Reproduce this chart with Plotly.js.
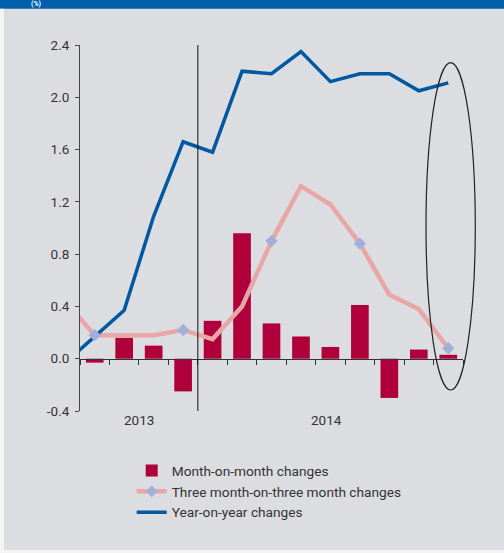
<!DOCTYPE html>
<html>
<head>
<meta charset="utf-8">
<script src="https://cdn.plot.ly/plotly-3.0.1.min.js"></script>
<style>html,body{margin:0;padding:0;background:#fff;}#chart{width:504px;height:553px;}</style>
</head>
<body>
<div id="chart"></div>
<script>
// Months (first one lies just left of the visible range, as in the original)
var months = ['Aug 2013','Sep 2013','Oct 2013','Nov 2013','Dec 2013','Jan 2014','Feb 2014','Mar 2014','Apr 2014','May 2014','Jun 2014','Jul 2014','Aug 2014','Sep 2014'];
var monthOnMonth = [null, -0.03, 0.16, 0.10, -0.25, 0.29, 0.96, 0.27, 0.17, 0.09, 0.41, -0.30, 0.07, 0.03];
var threeOnThree = [0.44, 0.18, 0.18, 0.18, 0.22, 0.15, 0.40, 0.90, 1.32, 1.18, 0.88, 0.49, 0.38, 0.08];
var yearOnYear   = [-0.03, 0.17, 0.37, 1.09, 1.66, 1.58, 2.20, 2.18, 2.35, 2.12, 2.18, 2.18, 2.05, 2.11];
var quarterEnd   = [false, true, false, false, true, false, false, true, false, false, true, false, false, true];
var yearLabels   = ['2013', '2014'];
var yTicks       = [-0.4, 0.0, 0.4, 0.8, 1.2, 1.6, 2.0, 2.4];
var yTickText    = ['-0.4', '0.0', '0.4', '0.8', '1.2', '1.6', '2.0', '2.4'];
var seriesNames  = ['Month-on-month changes', 'Three month-on-three month changes', 'Year-on-year changes'];
var unitLabel    = '(%)';

var BAR = '#b0003c', PINK = '#e8a6a6', DIAMOND = '#9fb1da', BLUE = '#0058a3';
var FONT = 'Roboto, "Liberation Sans", Arial, sans-serif';

var qx = [], qy = [];
months.forEach(function (m, i) { if (quarterEnd[i]) { qx.push(m); qy.push(threeOnThree[i]); } });

// legend symbol of the pink series takes the first colour; hidden markers elsewhere
var pinkMarkerColors = months.map(function (m, i) { return i === 0 ? DIAMOND : 'rgba(0,0,0,0)'; });

var traces = [
  { type: 'bar', x: months, y: monthOnMonth, name: seriesNames[0], width: 0.6,
    marker: { color: BAR }, hoverinfo: 'x+y' },
  { type: 'scatter', mode: 'lines+markers', x: months, y: threeOnThree, name: seriesNames[1],
    line: { color: PINK, width: 4.5 },
    marker: { symbol: 'diamond', size: 9, color: pinkMarkerColors } },
  { type: 'scatter', mode: 'lines', x: months, y: yearOnYear, name: seriesNames[2],
    line: { color: BLUE, width: 3.5 } },
  { type: 'scatter', mode: 'markers', x: qx, y: qy, showlegend: false,
    marker: { symbol: 'diamond', size: 9.5, color: DIAMOND } }
];

var layout = {
  width: 504, height: 553, autosize: false,
  margin: { l: 80, r: 41, t: 45, b: 142 },
  paper_bgcolor: '#dcdde0', plot_bgcolor: 'rgba(0,0,0,0)',
  font: { family: FONT, size: 13, color: '#333' },
  showlegend: true,
  legend: { x: 0.135, y: -0.1205, xanchor: 'left', yanchor: 'top', bgcolor: 'rgba(0,0,0,0)',
            font: { family: FONT, size: 13.7, color: '#333' }, tracegroupgap: 0, traceorder: 'normal' },
  xaxis: {
    type: 'category', range: [0.5, 13.5], anchor: 'free', position: 0.4 / 2.8,
    showline: true, linecolor: '#333', linewidth: 1,
    ticks: 'outside', tickson: 'boundaries', ticklen: 5, tickcolor: '#333', tickwidth: 1,
    showticklabels: false, showgrid: false, zeroline: false, fixedrange: true
  },
  yaxis: {
    range: [-0.4, 2.4], tickvals: yTicks, ticktext: yTickText,
    showline: true, linecolor: '#444', linewidth: 1,
    ticks: 'outside', ticklen: 4, tickcolor: '#444', ticklabelstandoff: 3,
    showgrid: false, zeroline: false, fixedrange: true,
    tickfont: { family: FONT, size: 13.5, color: '#333' }
  },
  annotations: [
    { xref: 'x', yref: 'paper', x: 2.5, y: -0.0246, text: yearLabels[0], showarrow: false,
      xanchor: 'center', yanchor: 'middle', font: { family: FONT, size: 13.5, color: '#333' } },
    { xref: 'x', yref: 'paper', x: 8.85, y: -0.0246, text: yearLabels[1], showarrow: false,
      xanchor: 'center', yanchor: 'middle', font: { family: FONT, size: 13.5, color: '#333' } },
    { xref: 'paper', yref: 'paper', x: -0.1123, y: 1.1115, text: '<b>' + unitLabel + '</b>', showarrow: false,
      xanchor: 'center', yanchor: 'middle', font: { family: FONT, size: 7, color: '#ffffff' } }
  ],
  shapes: [
    { type: 'rect', xref: 'paper', yref: 'paper', x0: -0.22, x1: 1.12, y0: 1.0992, y1: 1.13,
      fillcolor: '#005eab', line: { width: 0 } },
    { type: 'rect', xref: 'paper', yref: 'paper', x0: -0.22, x1: -0.1984, y0: -0.40, y1: 1.0992,
      fillcolor: '#f4f4f4', line: { width: 0 } },
    { type: 'rect', xref: 'paper', yref: 'paper', x0: -0.22, x1: 1.12, y0: -0.40, y1: -0.3798,
      fillcolor: '#f4f4f4', line: { width: 0 } },
    { type: 'line', xref: 'x', yref: 'paper', x0: 4.5, x1: 4.5, y0: 0, y1: 1,
      line: { color: '#111', width: 1 } },
    { type: 'circle', xref: 'paper', yref: 'paper', x0: 0.9034, x1: 1.0321, y0: 0.0574, y1: 0.9516,
      line: { color: '#222', width: 1.2 } }
  ]
};

Plotly.newPlot('chart', traces, layout, { displayModeBar: false, staticPlot: true });
</script>
</body>
</html>
